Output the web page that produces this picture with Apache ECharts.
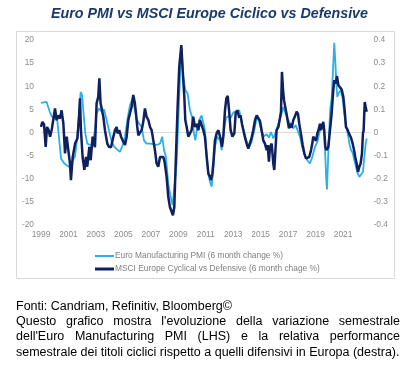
<!DOCTYPE html>
<html>
<head>
<meta charset="utf-8">
<script src="https://cdn.jsdelivr.net/npm/echarts@6/dist/echarts.min.js"></script>
<style>
html,body{margin:0;padding:0;background:#fff;}
#chart{width:417px;height:392px;}
</style>
</head>
<body>
<div id="chart"></div>
<script>
// ---- DATA ----
const titleText = 'Euro PMI vs MSCI Europe Ciclico vs Defensive';
const pmiName = 'Euro Manufacturing PMI (6 month change %)';
const msciName = 'MSCI Europe Cyclical vs Defensive (6 month chage %)';
const firstYear = 1999;
// time in years since Jan 1999
const pmiT = [0,0.41,0.61,0.78,1.02,1.19,1.33,1.46,1.67,1.87,
2.04,2.23,2.48,2.65,2.77,2.89,2.99,3.08,3.23,3.37,
3.57,3.76,3.93,4.05,4.22,4.42,4.59,4.78,4.95,5.15,
5.34,5.56,5.75,5.95,6.12,6.29,6.48,6.67,6.84,6.97,
7.16,7.33,7.50,7.69,7.94,8.18,8.42,8.67,8.83,8.96,
9.10,9.27,9.44,9.59,9.68,9.88,10.02,10.15,10.24,10.36,
10.51,10.68,10.85,11.00,11.14,11.24,11.38,11.53,11.70,11.82,
11.94,12.07,12.19,12.31,12.43,12.55,12.67,12.84,13.04,13.16,
13.33,13.48,13.64,13.81,14.01,14.25,14.44,14.61,14.79,14.98,
15.17,15.34,15.51,15.71,15.88,16.07,16.24,16.44,16.60,16.75,
16.92,17.11,17.29,17.48,17.65,17.82,18.01,18.19,18.38,18.55,
18.69,18.86,19.03,19.23,19.42,19.59,19.76,19.96,20.13,20.32,
20.49,20.61,20.71,20.78,20.83,20.90,20.97,21.07,21.17,21.27,
21.36,21.44,21.51,21.58,21.70,21.82,21.97,22.09,22.21,22.34,
22.46,22.58,22.70,22.82,22.94,23.07,23.19,23.33,23.45,23.55,
23.65,23.72];
const pmiVal = [6.4,6.6,4.7,3.5,3.0,2.5,-1.7,-5.6,-6.6,-7.1,
-7.4,-6.6,-5.1,-0.9,4.1,8.8,8.1,4.8,-0.2,-2.4,
-2.7,-2.4,0.5,4.1,5.2,4.5,5.0,2.7,0.5,-2.0,
-3.1,-3.7,-4.2,-2.7,-0.9,2.7,5.9,7.4,4.8,2.8,
1.9,1.2,-1.7,-2.4,-2.4,-2.5,-2.7,-2.4,-0.9,-3.8,
-5.3,-11.0,-13.9,-15.7,-15.4,-6.7,4.1,14.2,18.2,12.0,
9.2,8.4,4.8,3.4,-0.2,-1.7,1.2,2.7,3.7,4.1,
0.5,-5.3,-8.9,-10.7,-11.7,-8.1,-3.1,-0.9,-1.7,-3.8,
0.5,3.2,3.5,3.2,4.3,4.7,4.8,2.3,0.1,-2.0,
-3.1,-2.0,0.1,3.2,2.5,0.1,-0.8,-0.4,-1.1,0.1,
-1.3,0.1,1.9,3.7,5.5,4.0,2.7,1.6,0.9,1.6,
1.2,-0.9,-3.2,-5.1,-6.1,-6.7,-5.3,-3.1,-2.0,0.5,
1.4,0.5,-5.3,-10.3,-12.3,-6.7,-0.9,5.2,7.4,13.5,
19.4,15.3,10.6,7.7,8.6,9.2,7.4,4.1,1.6,-0.2,
-2.4,-3.8,-4.4,-6.0,-7.4,-8.9,-9.6,-9.9,-8.5,-5.3,
-2.4,-1.3];
const msciT = [0,0.10,0.22,0.34,0.44,0.56,0.66,0.78,0.90,1.02,
1.14,1.26,1.38,1.50,1.63,1.75,1.87,1.99,2.11,2.18,
2.31,2.48,2.65,2.77,2.84,2.91,3.03,3.16,3.28,3.37,
3.52,3.62,3.76,3.86,3.93,4.05,4.17,4.25,4.34,4.44,
4.54,4.66,4.83,4.95,5.10,5.27,5.39,5.51,5.58,5.70,
5.83,5.95,6.12,6.24,6.36,6.48,6.60,6.72,6.84,6.92,
7.01,7.09,7.21,7.33,7.45,7.57,7.69,7.82,7.94,8.06,
8.18,8.30,8.42,8.54,8.67,8.79,8.91,9.00,9.15,9.27,
9.39,9.51,9.61,9.71,9.81,9.95,10.07,10.22,10.32,10.44,
10.51,10.61,10.73,10.85,10.97,11.09,11.21,11.33,11.46,11.58,
11.70,11.82,
11.94,12.07,12.19,12.31,12.38,12.48,12.55,12.67,12.79,12.92,
13.04,13.11,13.18,13.28,13.40,13.50,13.60,13.72,13.81,13.94,
14.08,14.18,14.30,14.44,14.54,14.64,14.74,14.86,14.98,15.10,
15.22,15.34,15.46,15.59,15.71,15.83,15.95,16.07,16.19,16.31,
16.44,16.51,16.60,16.68,16.80,16.92,16.99,17.09,17.16,17.29,
17.41,17.48,17.55,17.63,17.70,17.80,17.87,17.97,18.06,18.14,
18.26,18.38,18.50,18.62,18.72,18.81,18.94,19.06,19.18,19.30,
19.42,19.54,19.67,19.76,19.83,19.96,20.03,20.13,20.22,20.32,
20.39,20.49,20.56,20.63,20.71,20.80,20.93,21.05,21.17,21.29,
21.36,21.46,21.56,21.66,21.78,21.90,22.02,22.12,22.21,22.34,
22.46,22.58,22.70,22.80,22.89,22.99,23.09,23.19,23.28,23.38,
23.45,23.50,23.58,23.65,23.72];
const msciVal = [0.024,0.046,0.036,-0.062,0.024,0.010,-0.018,0.012,0.018,0.104,
0.054,0.074,0.060,0.096,0.038,-0.090,-0.018,-0.022,-0.134,-0.206,
-0.106,-0.048,-0.026,0.068,0.148,0.010,-0.106,-0.162,-0.106,-0.148,
-0.062,-0.120,-0.018,-0.048,-0.064,0.126,0.154,0.234,0.126,0.118,
0.068,0.010,-0.048,-0.062,-0.064,-0.018,0.010,0.024,-0.004,0.010,
-0.018,-0.034,-0.054,-0.018,0.054,0.082,0.110,0.162,0.126,0.082,
0.024,-0.012,-0.018,0.010,0.046,0.104,0.068,0.054,0.024,0.010,
-0.034,-0.076,-0.134,-0.148,-0.106,-0.098,-0.106,-0.126,-0.192,-0.278,
-0.322,-0.322,-0.358,-0.322,-0.134,0.110,0.284,0.378,0.270,0.154,
0.054,0.024,-0.018,-0.018,0.010,0.068,0.024,0.038,0.010,0.054,
0.046,0.010,
-0.018,-0.106,-0.178,-0.192,-0.206,-0.178,-0.134,-0.034,-0.004,0.010,
0.018,-0.034,-0.062,-0.018,0.096,0.148,0.158,0.082,0.010,-0.018,
-0.004,0.082,0.096,0.064,0.074,0.036,0.010,-0.022,-0.048,-0.070,
-0.062,-0.022,0.010,0.054,0.074,0.068,0.050,0.010,-0.034,-0.048,
-0.076,-0.054,-0.126,-0.062,-0.048,-0.134,-0.162,-0.062,0.010,0.024,
0.064,0.090,0.262,0.184,0.140,0.132,0.086,0.050,0.018,0.038,
0.022,0.054,0.070,0.090,0.080,0.038,-0.008,-0.054,-0.090,-0.112,
-0.120,-0.106,-0.076,-0.048,-0.018,-0.026,-0.036,-0.004,0.012,0.038,
0.010,0.032,0.046,0.010,-0.062,-0.076,-0.062,0.010,0.082,0.184,
0.226,0.212,0.244,0.204,0.200,0.186,0.154,0.096,0.024,0.010,
-0.008,-0.022,-0.048,-0.076,-0.106,-0.134,-0.170,-0.148,-0.134,-0.090,
-0.004,0.010,0.132,0.110,0.090];
const footLines = [
  'Fonti: Candriam, Refinitiv, Bloomberg©',
  "Questo grafico mostra l'evoluzione della variazione semestrale",
  "dell'Euro Manufacturing PMI (LHS) e la relativa performance",
  'semestrale dei titoli ciclici rispetto a quelli difensivi in Europa (destra).'
];
const justified = [false, true, true, false];

// ---- STYLE ----
const FONT = '"Liberation Sans", Arial, sans-serif';
const lightBlue = '#2daee8';
const navy = '#0e205e';
const axisGray = '#8c8c8c';

const chart = echarts.init(document.getElementById('chart'), null, {renderer: 'canvas'});

// footer text (justified lines laid out word by word)
const footFont = 12.5;
const footLeft = 16, footRight = 400;
const footTops = [300, 315.2, 330.4, 345.6];
const mctx = document.createElement('canvas').getContext('2d');
mctx.font = footFont + 'px ' + FONT;
const footGraphics = [];
footLines.forEach((line, li) => {
  if (!justified[li]) {
    footGraphics.push({type: 'text', x: footLeft, y: footTops[li], silent: true,
      style: {text: line, fontSize: footFont, fontFamily: FONT, fill: '#000',
        textAlign: 'left', textVerticalAlign: 'top'}});
  } else {
    const words = line.split(' ');
    const ws = words.map(w => mctx.measureText(w).width);
    const sum = ws.reduce((a, b) => a + b, 0);
    const gap = (footRight - footLeft - sum) / (words.length - 1);
    let x = footLeft;
    words.forEach((w, i) => {
      footGraphics.push({type: 'text', x: x, y: footTops[li], silent: true,
        style: {text: w, fontSize: footFont, fontFamily: FONT, fill: '#000',
          textAlign: 'left', textVerticalAlign: 'top'}});
      x += ws[i] + gap;
    });
  }
});

const option = {
  animation: false,
  backgroundColor: '#fff',
  title: {
    text: titleText, left: 46, top: 2,
    textStyle: {fontSize: 14.3, fontWeight: 'bold', fontStyle: 'italic', color: '#1b3a6b', fontFamily: FONT}
  },
  graphic: [
    {type: 'rect', silent: true, z: -10,
     shape: {x: 16.5, y: 31.5, width: 378, height: 247},
     style: {fill: 'none', stroke: '#d9d9d9', lineWidth: 1}}
  ].concat(footGraphics),
  legend: {
    orient: 'vertical', left: 90, top: 247, itemWidth: 19, itemHeight: 8, itemGap: 5,
    textStyle: {color: '#7f7f7f', fontSize: 8.4, fontFamily: FONT, padding: [0, 0, 0, -4]},
    data: [
      {name: pmiName, icon: 'path://M0,3 H19 V5 H0 Z'},
      {name: msciName, icon: 'path://M0,2.5 H19 V5.5 H0 Z'}
    ]
  },
  grid: {left: 41, right: 46.5, top: 40, bottom: 167, containLabel: false},
  xAxis: {
    type: 'value', min: 0, max: 24, interval: 2,
    axisLine: {show: false}, axisTick: {show: false}, splitLine: {show: false},
    axisLabel: {color: axisGray, fontSize: 8.4, fontFamily: FONT, margin: 6,
      formatter: v => (v >= 24 ? '' : String(firstYear + v))}
  },
  yAxis: [
    {type: 'value', min: -20, max: 20, interval: 5, position: 'left',
     axisLine: {show: false}, axisTick: {show: false}, splitLine: {show: false},
     axisLabel: {color: axisGray, fontSize: 8.4, fontFamily: FONT, margin: 7}},
    {type: 'value', min: -0.4, max: 0.4, interval: 0.1, position: 'right',
     axisLine: {show: false}, axisTick: {show: false}, splitLine: {show: false},
     axisLabel: {color: axisGray, fontSize: 8.4, fontFamily: FONT, margin: 3,
       formatter: v => String(Math.round(v * 10) / 10)}}
  ],
  series: [
    {name: pmiName, type: 'line', xAxisIndex: 0, yAxisIndex: 0, z: 2,
     symbol: 'none', showSymbol: false,
     lineStyle: {color: lightBlue, width: 1.8}, itemStyle: {color: lightBlue},
     data: pmiT.map((t, i) => [t, pmiVal[i]]),
     markLine: {silent: true, symbol: ['none', 'none'], label: {show: false}, z: 1,
       lineStyle: {color: '#dadada', width: 1, type: 'solid'}, data: [{yAxis: 0}]}},
    {name: msciName, type: 'line', xAxisIndex: 0, yAxisIndex: 1, z: 3,
     symbol: 'none', showSymbol: false,
     lineStyle: {color: navy, width: 2.5}, itemStyle: {color: navy},
     data: msciT.map((t, i) => [t, msciVal[i]])}
  ]
};
chart.setOption(option);
</script>
</body>
</html>
